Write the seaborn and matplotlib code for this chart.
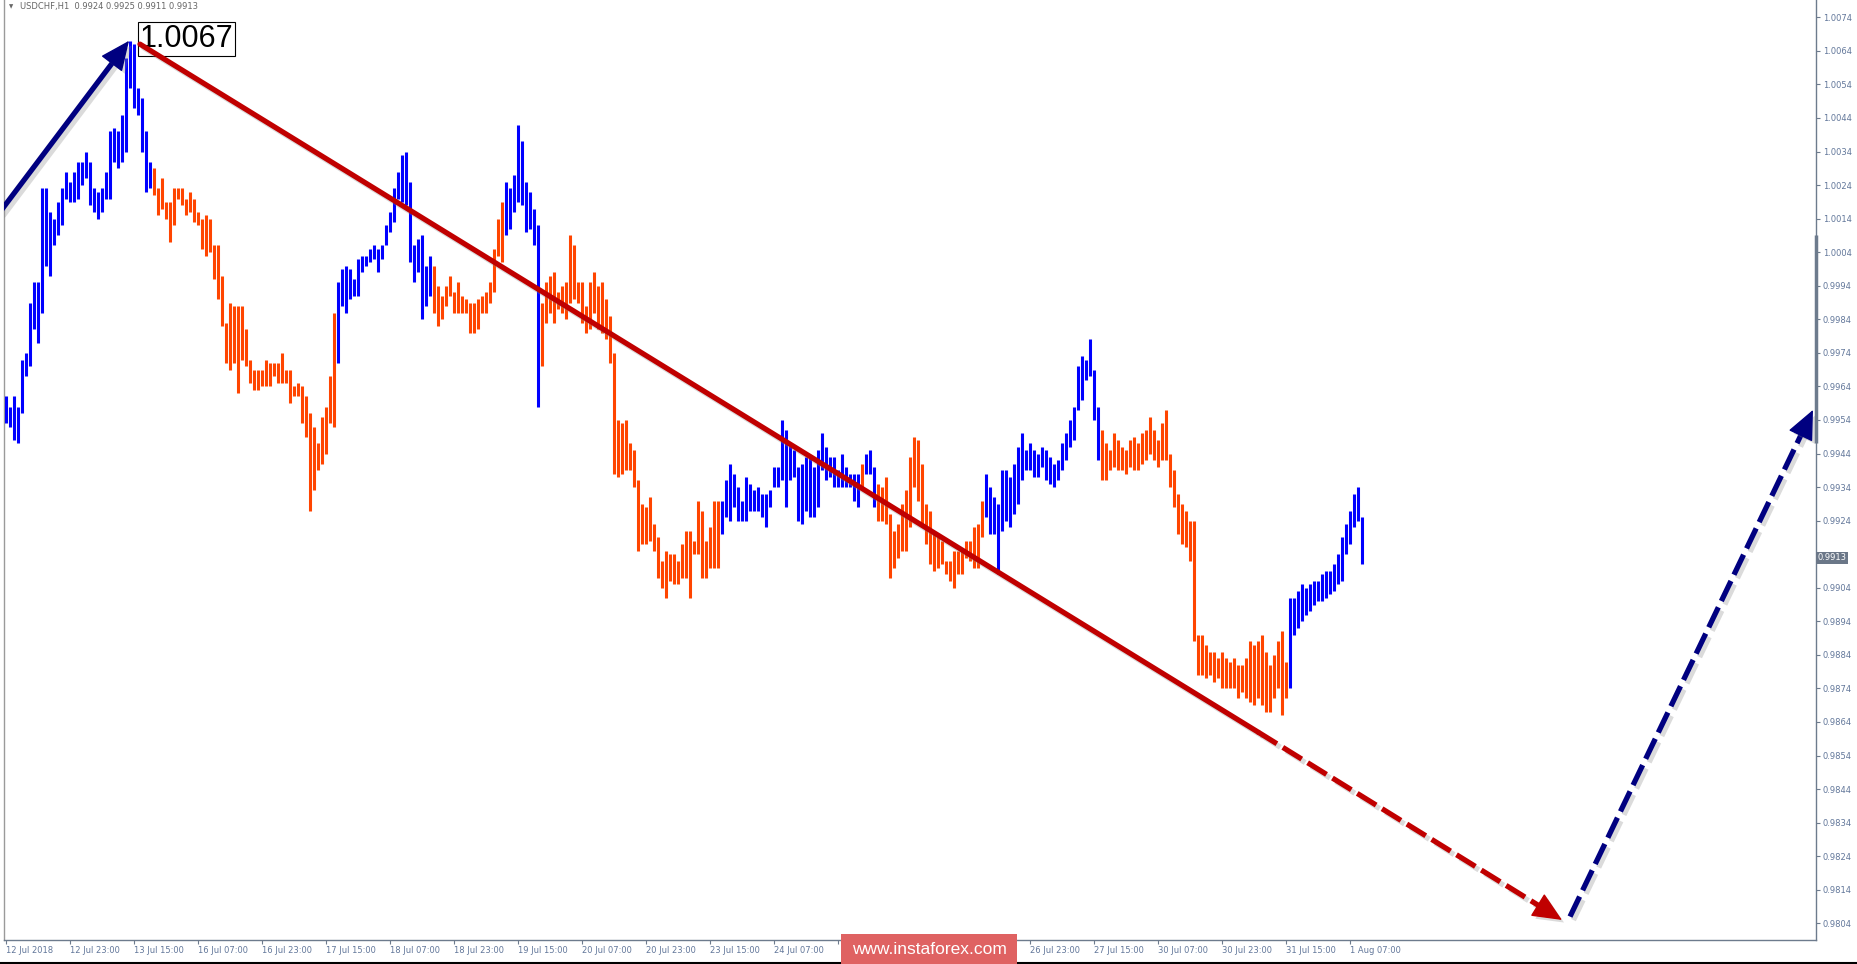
import numpy as np
import pandas as pd
import matplotlib
matplotlib.use("Agg")
import matplotlib.pyplot as plt
import matplotlib.patheffects as pe
from matplotlib.patches import Rectangle
from matplotlib.lines import Line2D
from matplotlib.transforms import blended_transform_factory
import seaborn as sns

# USDCHF H1, high / low of every bar
bar_high = [
    0.9961, 0.9958, 0.9961, 0.9958, 0.9972, 0.9974, 0.9989, 0.9995, 0.9995, 1.0023,
    1.0023, 1.0016, 1.0014, 1.0019, 1.0023, 1.0028, 1.0025, 1.0028, 1.0031, 1.0031,
    1.0034, 1.0031, 1.0023, 1.0022, 1.0023, 1.0028, 1.0040, 1.0041, 1.0040, 1.0045,
    1.0062, 1.0067, 1.0066, 1.0053, 1.0050, 1.0040, 1.0031, 1.0029, 1.0023, 1.0026,
    1.0019, 1.0019, 1.0023, 1.0023, 1.0023, 1.0020, 1.0022, 1.0020, 1.0016, 1.0014,
    1.0015, 1.0014, 1.0006, 1.0006, 0.9997, 0.9983, 0.9989, 0.9988, 0.9988, 0.9988,
    0.9981, 0.9972, 0.9969, 0.9969, 0.9969, 0.9972, 0.9971, 0.9971, 0.9971, 0.9974,
    0.9969, 0.9969, 0.9964, 0.9965, 0.9964, 0.9961, 0.9956, 0.9952, 0.9947, 0.9955,
    0.9958, 0.9967, 0.9986, 0.9995, 0.9999, 1.0000, 0.9999, 0.9996, 1.0002, 1.0003,
    1.0003, 1.0005, 1.0006, 1.0005, 1.0006, 1.0012, 1.0016, 1.0023, 1.0028, 1.0033,
    1.0034, 1.0025, 1.0006, 1.0008, 1.0009, 1.0000, 1.0003, 1.0000, 0.9994, 0.9991,
    0.9994, 0.9997, 0.9992, 0.9995, 0.9991, 0.9990, 0.9989, 0.9989, 0.9990, 0.9991,
    0.9992, 0.9995, 1.0005, 1.0014, 1.0019, 1.0025, 1.0023, 1.0027, 1.0042, 1.0037,
    1.0025, 1.0022, 1.0017, 1.0012, 0.9989, 0.9995, 0.9997, 0.9998, 0.9992, 0.9994,
    0.9995, 1.0009, 1.0006, 0.9995, 0.9995, 0.9988, 0.9995, 0.9998, 0.9994, 0.9995,
    0.9990, 0.9985, 0.9974, 0.9954, 0.9953, 0.9954, 0.9947, 0.9945, 0.9936, 0.9929,
    0.9928, 0.9931, 0.9923, 0.9919, 0.9912, 0.9915, 0.9914, 0.9914, 0.9912, 0.9917,
    0.9921, 0.9921, 0.9918, 0.9930, 0.9927, 0.9918, 0.9922, 0.9930, 0.9930, 0.9930,
    0.9936, 0.9941, 0.9938, 0.9934, 0.9930, 0.9937, 0.9935, 0.9933, 0.9934, 0.9932,
    0.9932, 0.9933, 0.9940, 0.9940, 0.9954, 0.9951, 0.9947, 0.9945, 0.9940, 0.9941,
    0.9943, 0.9943, 0.9940, 0.9945, 0.9950, 0.9946, 0.9943, 0.9943, 0.9939, 0.9944,
    0.9940, 0.9938, 0.9938, 0.9938, 0.9941, 0.9944, 0.9945, 0.9940, 0.9935, 0.9934,
    0.9937, 0.9926, 0.9921, 0.9923, 0.9929, 0.9933, 0.9943, 0.9949, 0.9948, 0.9941,
    0.9929, 0.9927, 0.9921, 0.9919, 0.9918, 0.9912, 0.9912, 0.9915, 0.9915, 0.9915,
    0.9918, 0.9918, 0.9922, 0.9923, 0.9930, 0.9938, 0.9934, 0.9931, 0.9929, 0.9939,
    0.9939, 0.9937, 0.9941, 0.9946, 0.9950, 0.9945, 0.9947, 0.9945, 0.9944, 0.9946,
    0.9945, 0.9943, 0.9941, 0.9942, 0.9947, 0.9950, 0.9954, 0.9958, 0.9970, 0.9973,
    0.9972, 0.9978, 0.9969, 0.9958, 0.9951, 0.9947, 0.9945, 0.9950, 0.9948, 0.9946,
    0.9945, 0.9948, 0.9949, 0.9947, 0.9950, 0.9951, 0.9955, 0.9951, 0.9948, 0.9953,
    0.9957, 0.9944, 0.9939, 0.9932, 0.9929, 0.9927, 0.9924, 0.9924, 0.9890, 0.9890,
    0.9887, 0.9885, 0.9885, 0.9883, 0.9885, 0.9883, 0.9882, 0.9883, 0.9881, 0.9881,
    0.9883, 0.9888, 0.9887, 0.9888, 0.9890, 0.9885, 0.9881, 0.9884, 0.9888, 0.9891,
    0.9882, 0.9901, 0.9901, 0.9903, 0.9905, 0.9904, 0.9905, 0.9906, 0.9906, 0.9908,
    0.9909, 0.9909, 0.9911, 0.9914, 0.9919, 0.9923, 0.9927, 0.9932, 0.9934, 0.9925,
]
bar_low = [
    0.9953, 0.9952, 0.9948, 0.9947, 0.9956, 0.9967, 0.9970, 0.9981, 0.9977, 0.9986,
    1.0000, 0.9997, 1.0006, 1.0009, 1.0012, 1.0020, 1.0019, 1.0019, 1.0020, 1.0024,
    1.0026, 1.0018, 1.0016, 1.0014, 1.0016, 1.0020, 1.0020, 1.0031, 1.0029, 1.0031,
    1.0034, 1.0053, 1.0047, 1.0045, 1.0034, 1.0022, 1.0023, 1.0021, 1.0015, 1.0017,
    1.0014, 1.0007, 1.0012, 1.0020, 1.0018, 1.0015, 1.0016, 1.0013, 1.0012, 1.0005,
    1.0003, 1.0004, 0.9996, 0.9990, 0.9982, 0.9971, 0.9969, 0.9971, 0.9962, 0.9972,
    0.9970, 0.9965, 0.9963, 0.9963, 0.9964, 0.9964, 0.9964, 0.9967, 0.9965, 0.9965,
    0.9965, 0.9959, 0.9961, 0.9961, 0.9953, 0.9949, 0.9927, 0.9933, 0.9939, 0.9941,
    0.9944, 0.9953, 0.9952, 0.9971, 0.9988, 0.9986, 0.9990, 0.9991, 0.9991, 0.9998,
    1.0000, 1.0001, 1.0002, 0.9998, 1.0002, 1.0006, 1.0010, 1.0013, 1.0020, 1.0019,
    1.0018, 1.0001, 0.9995, 0.9998, 0.9984, 0.9988, 0.9991, 0.9986, 0.9982, 0.9984,
    0.9988, 0.9991, 0.9986, 0.9986, 0.9986, 0.9986, 0.9980, 0.9980, 0.9981, 0.9986,
    0.9986, 0.9989, 0.9992, 1.0003, 1.0001, 1.0009, 1.0011, 1.0016, 1.0019, 1.0018,
    1.0010, 1.0011, 1.0006, 0.9958, 0.9970, 0.9983, 0.9986, 0.9983, 0.9987, 0.9986,
    0.9984, 0.9989, 0.9990, 0.9989, 0.9983, 0.9980, 0.9981, 0.9986, 0.9981, 0.9980,
    0.9978, 0.9971, 0.9938, 0.9937, 0.9938, 0.9939, 0.9939, 0.9934, 0.9915, 0.9917,
    0.9917, 0.9918, 0.9915, 0.9907, 0.9904, 0.9901, 0.9906, 0.9905, 0.9905, 0.9907,
    0.9907, 0.9901, 0.9914, 0.9914, 0.9907, 0.9907, 0.9910, 0.9910, 0.9910, 0.9920,
    0.9925, 0.9924, 0.9928, 0.9924, 0.9924, 0.9924, 0.9927, 0.9927, 0.9927, 0.9925,
    0.9922, 0.9928, 0.9934, 0.9934, 0.9936, 0.9928, 0.9936, 0.9937, 0.9924, 0.9923,
    0.9927, 0.9925, 0.9925, 0.9928, 0.9939, 0.9936, 0.9937, 0.9934, 0.9934, 0.9934,
    0.9934, 0.9934, 0.9930, 0.9928, 0.9934, 0.9938, 0.9938, 0.9928, 0.9924, 0.9924,
    0.9923, 0.9907, 0.9910, 0.9913, 0.9915, 0.9915, 0.9922, 0.9934, 0.9930, 0.9922,
    0.9917, 0.9911, 0.9909, 0.9910, 0.9911, 0.9908, 0.9906, 0.9904, 0.9908, 0.9908,
    0.9913, 0.9912, 0.9910, 0.9910, 0.9919, 0.9925, 0.9920, 0.9920, 0.9908, 0.9921,
    0.9924, 0.9922, 0.9926, 0.9929, 0.9936, 0.9939, 0.9939, 0.9937, 0.9937, 0.9940,
    0.9936, 0.9935, 0.9934, 0.9936, 0.9939, 0.9942, 0.9946, 0.9948, 0.9957, 0.9960,
    0.9966, 0.9967, 0.9954, 0.9942, 0.9936, 0.9936, 0.9939, 0.9940, 0.9939, 0.9939,
    0.9938, 0.9940, 0.9939, 0.9939, 0.9941, 0.9942, 0.9944, 0.9942, 0.9940, 0.9942,
    0.9942, 0.9934, 0.9928, 0.9920, 0.9917, 0.9916, 0.9912, 0.9888, 0.9878, 0.9878,
    0.9877, 0.9878, 0.9876, 0.9877, 0.9874, 0.9874, 0.9874, 0.9874, 0.9871, 0.9873,
    0.9871, 0.9870, 0.9869, 0.9871, 0.9869, 0.9867, 0.9867, 0.9871, 0.9874, 0.9866,
    0.9871, 0.9874, 0.9890, 0.9892, 0.9894, 0.9896, 0.9897, 0.9899, 0.9900, 0.9900,
    0.9901, 0.9902, 0.9903, 0.9905, 0.9906, 0.9914, 0.9917, 0.9922, 0.9924, 0.9911,
]
# length of each colour run of the bars, starting with an up (blue) run
trend_runs = [37, 46, 24, 18, 9, 45, 35, 1, 3, 27, 29, 47, 19]

# time axis labels, one every 16 hourly bars
time_labels = ["12 Jul 2018", "12 Jul 23:00", "13 Jul 15:00", "16 Jul 07:00",
               "16 Jul 23:00", "17 Jul 15:00", "18 Jul 07:00", "18 Jul 23:00",
               "19 Jul 15:00", "20 Jul 07:00", "20 Jul 23:00", "23 Jul 15:00",
               "24 Jul 07:00", "24 Jul 23:00", "25 Jul 15:00", "26 Jul 07:00",
               "26 Jul 23:00", "27 Jul 15:00", "30 Jul 07:00", "30 Jul 23:00",
               "31 Jul 15:00", "1 Aug 07:00"]
label_step = 16
# labels covered by the watermark in the original
hidden_labels = ["24 Jul 23:00", "25 Jul 15:00", "26 Jul 07:00"]

header = "USDCHF,H1  0.9924 0.9925 0.9911 0.9913"
last_close = 0.9913
peak_label = "1.0067"

# wave markup: (bar index, price)
wave_up_x, wave_up_y = [-1.5, 30.75], [1.0016, 1.0067]
wave_down_x, wave_down_y = [33.5, 313], [1.0066, 0.9861]
proj_down_x, proj_down_y = [313, 389], [0.9861, 0.9805]
proj_up_x, proj_up_y = [391, 451.75], [0.9806, 0.9957]

# ---- style ----
sns.set_theme(style="white")
plt.rcParams['font.family'] = ['DejaVu Sans']
plt.rcParams['lines.scale_dashes'] = False

BLUE, ORANGE = '#0000ff', '#ff4500'
NAVY, DARKRED = '#000080', '#c00000'
SLATE = '#6d7b8d'
LABEL = '#62779a'

W, H = 1858, 964
fig = plt.figure(figsize=(W / 100, H / 100), dpi=100)
ax = fig.add_axes([4 / W, 24 / H, 1812 / W, 940 / H])
ax.set_xlim(-0.5, 452.5)
ax.set_ylim(0.979903, 1.007916)

df = pd.DataFrame({'high': bar_high, 'low': bar_low})
df['bar'] = np.arange(len(df))
trend = np.repeat(np.arange(len(trend_runs)) % 2, trend_runs)
df['color'] = np.where(trend == 0, BLUE, ORANGE)

ax.vlines(df['bar'], df['low'], df['high'], colors=df['color'],
          linewidth=2.2, capstyle='butt', zorder=3)

shadow = [pe.SimpleLineShadow(offset=(2.5, -2.5), shadow_color='#888888', alpha=0.3),
          pe.Normal()]
patch_shadow = [pe.SimplePatchShadow(offset=(2.5, -2.5), shadow_rgbFace='#888888', alpha=0.3),
                pe.Normal()]


def arrow(xs, ys, color, dashed=False, head=True):
    p0 = ax.transData.transform((xs[0], ys[0]))
    p1 = ax.transData.transform((xs[1], ys[1]))
    d = (p1 - p0) / np.hypot(*(p1 - p0))
    end = (xs[1], ys[1])
    if head:
        end = ax.transData.inverted().transform(p1 - d * 22)
    kw = dict(color=color, linewidth=3.8, path_effects=shadow, zorder=5)
    if dashed:
        kw['dashes'] = (16, 5)
    sns.lineplot(x=[xs[0], end[0]], y=[ys[0], end[1]], ax=ax, sort=False, **kw)
    if head:
        base = ax.transData.inverted().transform(p1 - d * 28)
        ax.annotate('', xy=(xs[1], ys[1]), xytext=base,
                    arrowprops=dict(arrowstyle='-|>,head_length=19,head_width=8.5',
                                    mutation_scale=1, color=color, lw=1,
                                    shrinkA=0, shrinkB=0, path_effects=patch_shadow),
                    zorder=6)


ax.text(33.5, 1.00676, peak_label, fontsize=22, family='Liberation Sans',
        ha='left', va='center', color='black', zorder=4,
        bbox=dict(boxstyle='square,pad=0.06', fc='white', ec='black', lw=0.8))

arrow(wave_up_x, wave_up_y, NAVY)
arrow(wave_down_x, wave_down_y, DARKRED, head=False)
arrow(proj_down_x, proj_down_y, DARKRED, dashed=True)
arrow(proj_up_x, proj_up_y, NAVY, dashed=True)

# axes
ax.spines['top'].set_visible(False)
ax.spines['left'].set_color('#9a9a9a')
ax.spines['right'].set_color(SLATE)
ax.spines['bottom'].set_color(SLATE)
for s in ['left', 'right', 'bottom']:
    ax.spines[s].set_linewidth(1)

ax.set_xticks(np.arange(0, len(df), label_step))
ax.set_xticklabels(['' if t in hidden_labels else t for t in time_labels], ha='left')

# price scale; the level under the last-price marker is not labelled
price_ticks = np.round(np.arange(0.9804, 1.0075, 0.0010), 4)
ax.yaxis.tick_right()
ax.set_yticks(price_ticks)
ax.set_yticklabels(['' if abs(p - last_close) < 0.0005 else f'{p:.4f}' for p in price_ticks])
ax.tick_params(axis='both', direction='out', length=3, width=0.8, color=SLATE,
               labelsize=6, labelcolor=LABEL, pad=2)
ax.tick_params(axis='y', right=True, left=False, labelright=True, labelleft=False)
ax.tick_params(axis='x', bottom=True, pad=1.5)
ax.set_xlabel('')
ax.set_ylabel('')
ax.grid(False)

right_tr = blended_transform_factory(ax.transAxes, ax.transData)
ax.plot([1, 1], [1.0009, 0.9947], transform=right_tr, color=SLATE, lw=2.5,
        solid_capstyle='butt', clip_on=False, zorder=8)
ax.text(1.0006, last_close, f'{last_close:.4f}', transform=right_tr, fontsize=6,
        color='white', ha='left', va='center', zorder=9,
        bbox=dict(boxstyle='square,pad=0.18', fc='#6b7788', ec='none'))

# header
fig.text(9 / W, 1 - 7 / H, '▼', fontsize=4, color='#666666', va='center')
fig.text(20 / W, 1 - 7 / H, header, fontsize=6, color='#666666', va='center')

# watermark
fig.patches.append(Rectangle((841 / W, 0), 176 / W, 30 / H, transform=fig.transFigure,
                             facecolor='#df6262', edgecolor='none', zorder=20))
fig.text(929 / W, 15 / H, 'www.instaforex.com', fontsize=12.5, family='Liberation Sans',
         color='white', ha='center', va='center', zorder=21)
fig.add_artist(Line2D([0, 1], [1 / H, 1 / H], transform=fig.transFigure,
                      color='black', lw=1.5, zorder=19))

fig.savefig('out.png', dpi=100)
